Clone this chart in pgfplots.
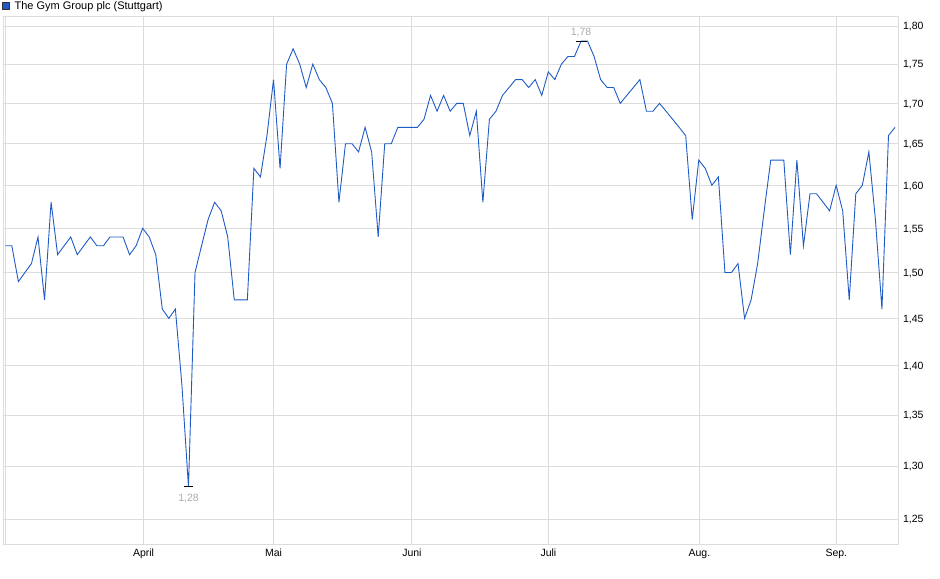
\documentclass[border=0pt]{standalone}
\usepackage{fontspec}
\setmainfont{Liberation Sans}
\usepackage{pgfplots}
\usepackage{pgfplotstable}
\pgfplotsset{compat=1.18}

\definecolor{kurs}{HTML}{1F5BC6}
\definecolor{gitter}{HTML}{DCDCDC}
\definecolor{marke}{HTML}{ABABAB}

% Handelstage (Index) und Schlusskurse in EUR
\pgfplotstableread{
i kurs
0 1.53
1 1.53
2 1.49
3 1.50
4 1.51
5 1.54
6 1.47
7 1.58
8 1.52
9 1.53
10 1.54
11 1.52
12 1.53
13 1.54
14 1.53
15 1.53
16 1.54
17 1.54
18 1.54
19 1.52
20 1.53
21 1.55
22 1.54
23 1.52
24 1.46
25 1.45
26 1.46
27 1.38
28 1.28
29 1.50
30 1.53
31 1.56
32 1.58
33 1.57
34 1.54
35 1.47
36 1.47
37 1.47
38 1.62
39 1.61
40 1.66
41 1.73
42 1.62
43 1.75
44 1.77
45 1.75
46 1.72
47 1.75
48 1.73
49 1.72
50 1.70
51 1.58
52 1.65
53 1.65
54 1.64
55 1.67
56 1.64
57 1.54
58 1.65
59 1.65
60 1.67
61 1.67
62 1.67
63 1.67
64 1.68
65 1.71
66 1.69
67 1.71
68 1.69
69 1.70
70 1.70
71 1.66
72 1.69
73 1.58
74 1.68
75 1.69
76 1.71
77 1.72
78 1.73
79 1.73
80 1.72
81 1.73
82 1.71
83 1.74
84 1.73
85 1.75
86 1.76
87 1.76
88 1.78
89 1.78
90 1.76
91 1.73
92 1.72
93 1.72
94 1.70
95 1.71
96 1.72
97 1.73
98 1.69
99 1.69
100 1.70
101 1.69
102 1.68
103 1.67
104 1.66
105 1.56
106 1.63
107 1.62
108 1.60
109 1.61
110 1.50
111 1.50
112 1.51
113 1.45
114 1.47
115 1.51
116 1.57
117 1.63
118 1.63
119 1.63
120 1.52
121 1.63
122 1.53
123 1.59
124 1.59
125 1.58
126 1.57
127 1.60
128 1.57
129 1.47
130 1.59
131 1.60
132 1.64
133 1.56
134 1.46
135 1.66
136 1.67
}\gym

\begin{document}
\begin{tikzpicture}
\useasboundingbox (0,0) rectangle (940bp,579bp);
\begin{axis}[
  at={(3bp,34.5bp)}, anchor=south west,
  scale only axis,
  width=895.3bp, height=528.5bp,
  ymode=log,
  xmin=-0.35, xmax=136.5,
  ymin=1.2267, ymax=1.8134,
  axis line style={gitter, line width=0.8bp},
  grid=major,
  grid style={gitter, line width=0.8bp},
  major tick length=0pt,
  font=\fontsize{10.5bp}{12bp}\selectfont,
  xtick={0,21.13,41,62.15,83.02,106.1,127.03},
  xticklabels={,April,Mai,Juni,Juli,Aug.,Sep.},
  xticklabel style={anchor=base, inner sep=0pt, yshift=-12.3bp},
  ytick={1.25,1.30,1.35,1.40,1.45,1.50,1.55,1.60,1.65,1.70,1.75,1.80},
  yticklabels={\textnormal{1,25},\textnormal{1,30},\textnormal{1,35},\textnormal{1,40},
    \textnormal{1,45},\textnormal{1,50},\textnormal{1,55},\textnormal{1,60},
    \textnormal{1,65},\textnormal{1,70},\textnormal{1,75},\textnormal{1,80}},
  yticklabel pos=right,
  yticklabel style={anchor=base west, inner sep=0pt, xshift=4.5bp, yshift=-3.8bp},
  legend style={at={(axis description cs:0,1)}, anchor=south west,
    xshift=-1bp, yshift=2.6bp, draw=none, fill=none, inner sep=0pt,
    font=\fontsize{11bp}{12bp}\selectfont,
    nodes={inner sep=2.5bp}},
  legend cell align=left,
  legend image code/.code={%
    \path (0bp,0bp) (9bp,0bp);
    \draw[black!80, fill=kurs, line width=0.7bp] (0bp,-3.2bp) rectangle (7bp,3.8bp);},
]
\addplot[kurs, line width=0.9bp, mark=none] table[x=i, y=kurs] {\gym};
\addlegendentry{The Gym Group plc (Stuttgart)}

% Markierung Hoch
\addplot[black, only marks, mark=-, mark size=5.5bp, mark options={line width=1bp},
  nodes near coords={1,78},
  every node near coord/.style={anchor=center, yshift=8.5bp, color=marke, inner sep=0pt},
  forget plot] coordinates {(88,1.78)};
% Markierung Tief
\addplot[black, only marks, mark=-, mark size=4.5bp, mark options={line width=1bp},
  nodes near coords={1,28},
  every node near coord/.style={anchor=center, yshift=-11.5bp, color=marke, inner sep=0pt},
  forget plot] coordinates {(28,1.28)};
\end{axis}
\end{tikzpicture}
\end{document}
